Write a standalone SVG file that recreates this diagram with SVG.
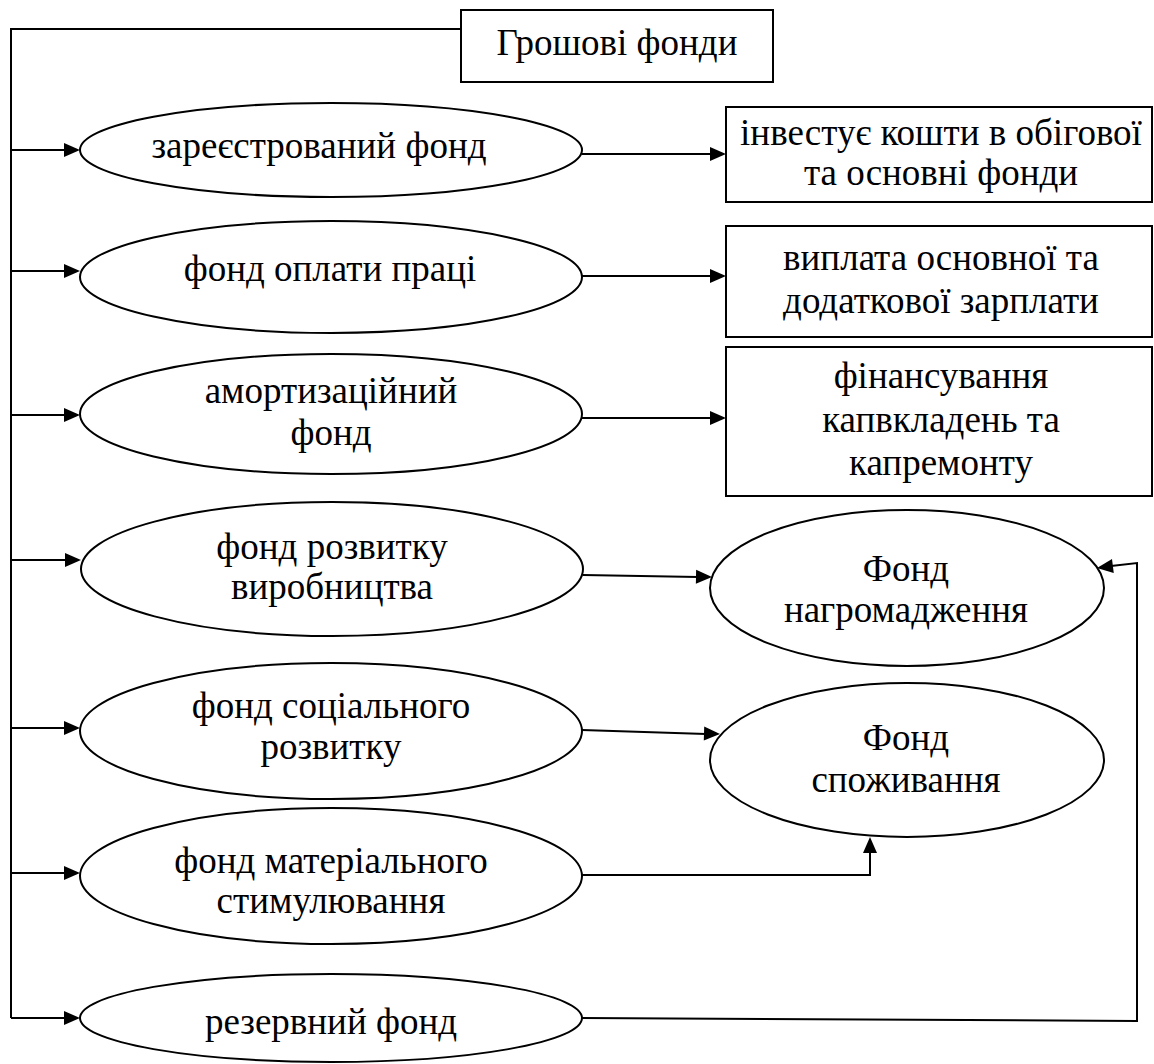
<svg xmlns="http://www.w3.org/2000/svg" width="1154" height="1064" viewBox="0 0 1154 1064">
<style>
.n{fill:#fff;stroke:#000;stroke-width:2}
.c{fill:none;stroke:#000;stroke-width:2}
.h{fill:#000;stroke:none}
text{font-family:"Liberation Serif","Times New Roman",serif;font-size:37px;fill:#000;text-anchor:middle}
</style>
<defs>
<path id="hr" d="M-16,-7 L0,0 L-16,7 z"/>
</defs>
<rect width="1154" height="1064" fill="#fff"/>
<g id="connectors">
<polyline class="c" points="461,29 11,29 11,1018"/>
<line class="c" x1="11" y1="150" x2="66" y2="150"/>
<line class="c" x1="11" y1="271" x2="66" y2="271"/>
<line class="c" x1="11" y1="415" x2="66" y2="415"/>
<line class="c" x1="11" y1="560" x2="67" y2="560"/>
<line class="c" x1="11" y1="728" x2="66" y2="728"/>
<line class="c" x1="11" y1="873" x2="66" y2="873"/>
<line class="c" x1="11" y1="1018" x2="66" y2="1018"/>
<line class="c" x1="582" y1="154" x2="712" y2="154"/>
<line class="c" x1="582" y1="276" x2="712" y2="276"/>
<line class="c" x1="582" y1="418" x2="712" y2="418"/>
<line class="c" x1="583" y1="575" x2="698" y2="577"/>
<line class="c" x1="582" y1="730" x2="706" y2="734"/>
<polyline class="c" points="582,875 870,875 870,851"/>
<polyline class="c" points="582,1018 1137,1021 1137,563 1111,566"/>
<use href="#hr" class="h" transform="translate(80,150)"/>
<use href="#hr" class="h" transform="translate(80,271)"/>
<use href="#hr" class="h" transform="translate(80,415)"/>
<use href="#hr" class="h" transform="translate(81,560)"/>
<use href="#hr" class="h" transform="translate(80,728)"/>
<use href="#hr" class="h" transform="translate(80,873)"/>
<use href="#hr" class="h" transform="translate(80,1018)"/>
<use href="#hr" class="h" transform="translate(726,154)"/>
<use href="#hr" class="h" transform="translate(726,276)"/>
<use href="#hr" class="h" transform="translate(726,418)"/>
<use href="#hr" class="h" transform="translate(712,577) rotate(1)"/>
<use href="#hr" class="h" transform="translate(720,734) rotate(1.7)"/>
<use href="#hr" class="h" transform="translate(870,837) rotate(-90)"/>
<use href="#hr" class="h" transform="translate(1097,568) rotate(173)"/>
</g>
<g id="n-groshovi"><rect class="n" x="461" y="10" width="312" height="72"/><text x="617" y="55">Грошові фонди</text></g>
<g id="n-zareestr"><ellipse class="n" cx="331" cy="150" rx="251" ry="47"/><text x="319" y="158">зареєстрований фонд</text></g>
<g id="n-oplata"><ellipse class="n" cx="331" cy="277" rx="251" ry="56"/><text x="330" y="281">фонд оплати праці</text></g>
<g id="n-amort"><ellipse class="n" cx="331" cy="414" rx="251" ry="60"/><text x="331" y="403">амортизаційний</text><text x="331" y="445">фонд</text></g>
<g id="n-rozvytok"><ellipse class="n" cx="332" cy="569" rx="251" ry="67"/><text x="332" y="559">фонд розвитку</text><text x="332" y="599">виробництва</text></g>
<g id="n-social"><ellipse class="n" cx="331" cy="731" rx="251" ry="68"/><text x="331" y="718">фонд соціального</text><text x="331" y="759">розвитку</text></g>
<g id="n-stymul"><ellipse class="n" cx="331" cy="876" rx="251" ry="68"/><text x="331" y="873">фонд матеріального</text><text x="331" y="913">стимулювання</text></g>
<g id="n-rezerv"><ellipse class="n" cx="331" cy="1018" rx="251" ry="44"/><text x="331" y="1034">резервний фонд</text></g>
<g id="n-invest"><rect class="n" x="726" y="107" width="426" height="95"/><text x="941" y="145">інвестує кошти в обігової</text><text x="941" y="185">та основні фонди</text></g>
<g id="n-vyplata"><rect class="n" x="726" y="226" width="426" height="111"/><text x="941" y="270">виплата основної та</text><text x="941" y="313">додаткової зарплати</text></g>
<g id="n-finans"><rect class="n" x="726" y="347" width="426" height="149"/><text x="941" y="388">фінансування</text><text x="941" y="432">капвкладень та</text><text x="941" y="475">капремонту</text></g>
<g id="n-nagrom"><ellipse class="n" cx="907" cy="588" rx="197" ry="78"/><text x="906" y="581">Фонд</text><text x="906" y="622">нагромадження</text></g>
<g id="n-spozh"><ellipse class="n" cx="907" cy="760" rx="197" ry="77"/><text x="906" y="750">Фонд</text><text x="906" y="792">споживання</text></g>
</svg>
